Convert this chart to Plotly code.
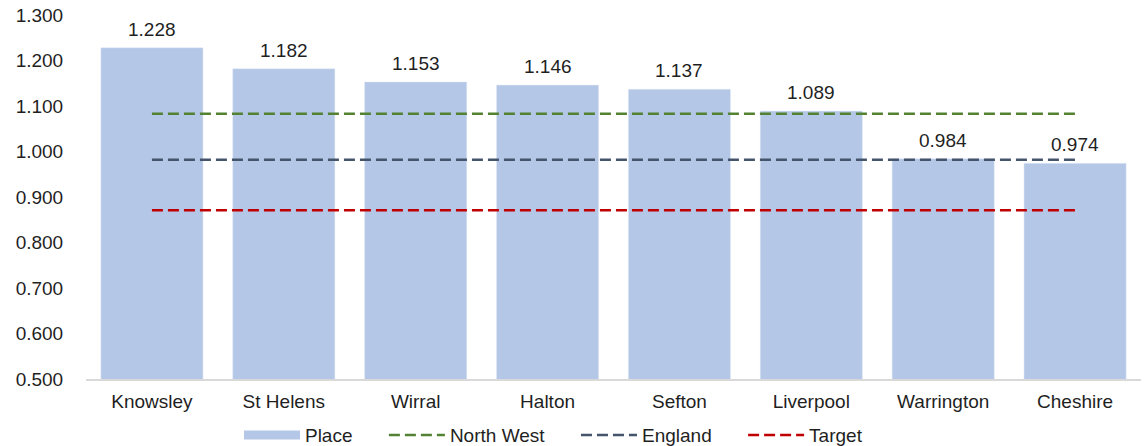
import plotly.graph_objects as go

# Values per place, with the regional, national and target reference levels
places = ["Knowsley", "St Helens", "Wirral", "Halton", "Sefton",
          "Liverpool", "Warrington", "Cheshire"]
place_values = [1.228, 1.182, 1.153, 1.146, 1.137, 1.089, 0.984, 0.974]
north_west = 1.083
england = 0.982
target = 0.871
y_ticks = [0.5, 0.6, 0.7, 0.8, 0.9, 1.0, 1.1, 1.2, 1.3]

FONT = "Liberation Sans, Arial, sans-serif"
TEXT = "#1f1f1f"
BAR = "#b4c7e7"
FS = 19
PAD = "\u00a0" * 5  # extra room between legend entries

fig = go.Figure()

fig.add_trace(go.Bar(
    x=places, y=place_values, marker_color=BAR, name="Place",
    showlegend=False, hoverinfo="x+y",
))
# legend entry for the bars, drawn as a thick swatch
fig.add_trace(go.Scatter(
    x=[None], y=[None], mode="lines", name="Place" + PAD,
    line=dict(color=BAR, width=9),
))

for name, level, colour in [("North West", north_west, "#548235"),
                            ("England", england, "#44546a"),
                            ("Target", target, "#c00000")]:
    fig.add_trace(go.Scatter(
        x=places, y=[level] * len(places), mode="lines", name=name + PAD,
        line=dict(color=colour, width=2.5, dash="11px,5px"),
    ))

# value labels above each bar
for p, v in zip(places, place_values):
    fig.add_annotation(
        x=p, y=v, text=f"{v:.3f}", showarrow=False, yanchor="bottom",
        yshift=6, font=dict(family=FONT, size=FS, color=TEXT),
    )

fig.update_layout(
    width=1145, height=446,
    margin=dict(l=86, r=4, t=15, b=67, autoexpand=False),
    paper_bgcolor="white", plot_bgcolor="white",
    bargap=0.225,
    font=dict(family=FONT, size=FS, color=TEXT),
    legend=dict(
        orientation="h", x=0.145, xanchor="left", y=-0.154, yanchor="middle",
        font=dict(family=FONT, size=FS, color=TEXT),
        itemwidth=56, tracegroupgap=0, bgcolor="rgba(0,0,0,0)",
    ),
    showlegend=True,
)
fig.update_xaxes(
    showgrid=False, showline=True, linecolor="#d9d9d9", linewidth=1.5,
    ticks="outside", ticklen=4, tickcolor="white",
    tickfont=dict(family=FONT, size=FS, color=TEXT),
)
fig.update_yaxes(
    range=[0.5, 1.3], tickvals=y_ticks,
    ticktext=[f"{t:.3f}" for t in y_ticks],
    showgrid=False, showline=False, zeroline=False,
    ticks="outside", ticklen=18, tickcolor="white",
    tickfont=dict(family=FONT, size=FS, color=TEXT),
)

fig.write_html("out.html")
